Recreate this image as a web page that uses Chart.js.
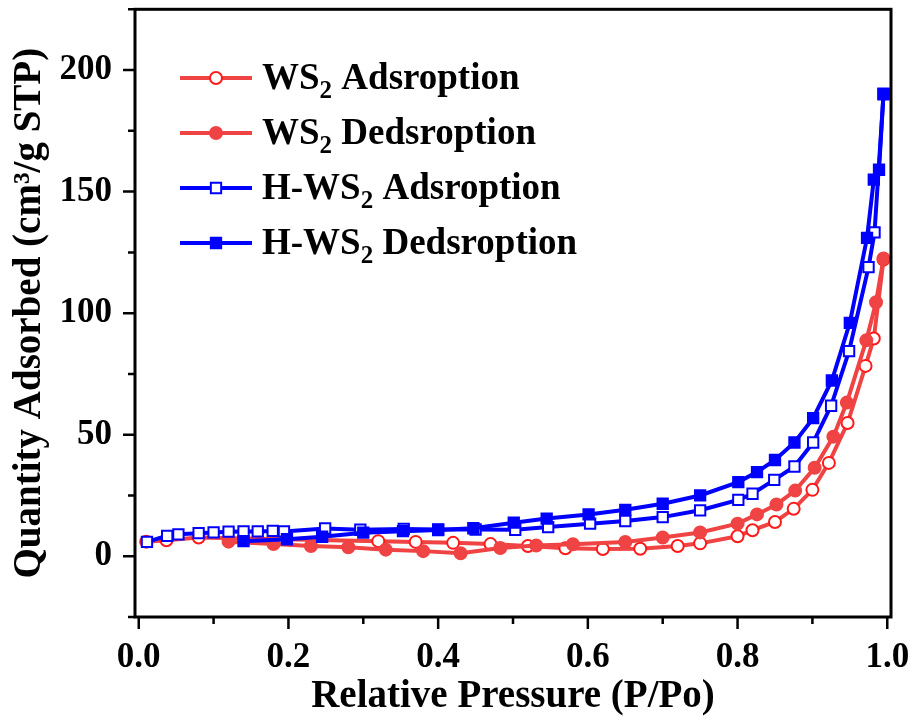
<!DOCTYPE html>
<html>
<head>
<meta charset="utf-8">
<title>N2 isotherms WS2 / H-WS2</title>
<script src="https://cdn.jsdelivr.net/npm/chart.js@4.4.1/dist/chart.umd.min.js"></script>
<style>
  html, body { margin: 0; padding: 0; background: #fff; }
  canvas { display: block; }
</style>
</head>
<body>
<canvas id="isotherm" width="916" height="724"></canvas>
<script>
// values (P/Po, cm3/g STP)
const wsAdsX = [0.010, 0.037, 0.080, 0.320, 0.370, 0.420, 0.470, 0.520, 0.570, 0.620, 0.670, 0.720, 0.750, 0.800, 0.820, 0.850, 0.875, 0.900, 0.922, 0.947, 0.971, 0.982, 0.995];
const wsAdsY = [6.0, 6.6, 7.7, 6.2, 5.9, 5.5, 5.0, 4.2, 3.3, 3.0, 3.1, 4.2, 5.3, 8.2, 10.7, 14.1, 19.5, 27.3, 38.4, 54.8, 78.3, 89.6, 122.0];

const wsDesX = [0.120, 0.180, 0.230, 0.280, 0.330, 0.380, 0.430, 0.483, 0.531, 0.580, 0.650, 0.700, 0.750, 0.800, 0.826, 0.852, 0.877, 0.903, 0.928, 0.946, 0.972, 0.985, 0.995];
const wsDesY = [6.0, 5.0, 4.2, 3.7, 2.7, 2.1, 1.2, 3.4, 4.4, 4.9, 5.9, 7.7, 9.8, 13.4, 17.2, 21.3, 27.0, 36.4, 49.2, 63.2, 88.8, 104.5, 122.5];

const hwsAdsX = [0.011, 0.038, 0.053, 0.080, 0.100, 0.120, 0.140, 0.159, 0.179, 0.194, 0.249, 0.296, 0.354, 0.400, 0.450, 0.503, 0.547, 0.603, 0.650, 0.700, 0.750, 0.801, 0.820, 0.849, 0.876, 0.901, 0.925, 0.949, 0.975, 0.983, 0.995];
const hwsAdsY = [5.9, 8.4, 9.0, 9.5, 9.8, 10.1, 10.2, 10.2, 10.4, 10.2, 11.4, 10.9, 11.2, 11.0, 11.0, 10.9, 12.0, 13.4, 14.5, 16.1, 18.9, 23.2, 25.7, 31.4, 36.9, 46.8, 61.9, 84.4, 118.9, 133.2, 190.0];

const hwsDesX = [0.140, 0.198, 0.245, 0.300, 0.353, 0.400, 0.447, 0.501, 0.545, 0.601, 0.650, 0.700, 0.750, 0.801, 0.826, 0.850, 0.876, 0.901, 0.926, 0.950, 0.973, 0.982, 0.989, 0.995];
const hwsDesY = [6.2, 7.0, 8.0, 9.7, 10.3, 10.8, 11.5, 13.8, 15.5, 17.2, 19.1, 21.6, 25.0, 30.5, 34.6, 39.6, 46.8, 56.8, 72.3, 96.0, 131.0, 154.9, 159.0, 190.3];

const seriesNames = ["WS₂ Adsroption", "WS₂ Dedsroption", "H-WS₂ Adsroption", "H-WS₂ Dedsroption"];

const xTicks = [0, 0.2, 0.4, 0.6, 0.8, 1.0];
const xMinor = [0.1, 0.3, 0.5, 0.7, 0.9];
const yTicks = [0, 50, 100, 150, 200];
const yMinor = [-25, 25, 75, 125, 175, 225];

const serif = '"Liberation Serif", "Times New Roman", serif';
const RED = '#f04343';
const BLUE = '#0000ff';

function pts(xs, ys) {
    return xs.map((x, i) => ({ x: x, y: ys[i] }));
}

// draws one marker the same way for plot and legend
function marker(ctx, ds, x, y) {
    ctx.save();
    ctx.fillStyle = ds.pointBackgroundColor;
    ctx.strokeStyle = ds.pointBorderColor;
    ctx.lineWidth = ds.pointBorderWidth;
    ctx.beginPath();
    if (ds.pointStyle === 'rect') {
        const h = Math.SQRT1_2 * ds.pointRadius;
        ctx.rect(x - h, y - h, 2 * h, 2 * h);
    } else {
        ctx.arc(x, y, ds.pointRadius, 0, Math.PI * 2);
    }
    ctx.fill();
    ctx.stroke();
    ctx.restore();
}

// frame with outward major / minor ticks
const framePlugin = {
    id: 'frame',
    afterDraw(chart) {
        const { ctx, chartArea: a, scales: { x, y } } = chart;
        ctx.save();
        ctx.strokeStyle = '#000';
        ctx.lineWidth = 2.5;
        ctx.beginPath();
        xTicks.forEach(v => { const p = x.getPixelForValue(v); ctx.moveTo(p, a.bottom); ctx.lineTo(p, a.bottom + 12); });
        xMinor.forEach(v => { const p = x.getPixelForValue(v); ctx.moveTo(p, a.bottom); ctx.lineTo(p, a.bottom + 7); });
        yTicks.forEach(v => { const p = y.getPixelForValue(v); ctx.moveTo(a.left, p); ctx.lineTo(a.left - 12, p); });
        yMinor.forEach(v => { const p = y.getPixelForValue(v); ctx.moveTo(a.left, p); ctx.lineTo(a.left - 7, p); });
        ctx.stroke();
        ctx.lineWidth = 3;
        ctx.strokeRect(a.left, a.top, a.right - a.left, a.bottom - a.top);
        ctx.restore();
    }
};

// legend with real subscripts
const legendPlugin = {
    id: 'subLegend',
    afterDraw(chart) {
        const ctx = chart.ctx;
        chart.data.datasets.forEach((ds, i) => {
            const cy = 78 + i * 55;
            ctx.save();
            ctx.strokeStyle = ds.borderColor;
            ctx.lineWidth = ds.borderWidth;
            ctx.beginPath();
            ctx.moveTo(180, cy);
            ctx.lineTo(252, cy);
            ctx.stroke();
            ctx.restore();
            marker(ctx, ds, 216, cy);

            ctx.save();
            ctx.fillStyle = '#000';
            ctx.textBaseline = 'alphabetic';
            ctx.textAlign = 'left';
            let tx = 262;
            const parts = ds.label.split('₂');
            parts.forEach((part, k) => {
                ctx.font = 'bold 37px ' + serif;
                ctx.fillText(part, tx, cy + 11);
                tx += ctx.measureText(part).width;
                if (k < parts.length - 1) {
                    ctx.font = 'bold 25px ' + serif;
                    ctx.fillText('2', tx, cy + 20);
                    tx += ctx.measureText('2').width;
                }
            });
            ctx.restore();
        });
    }
};

const common = {
    showLine: true,
    borderWidth: 4,
    pointBorderWidth: 2,
    pointHoverRadius: 6
};

new Chart("isotherm", {
    type: "line",
    data: {
        datasets: [{
            ...common,
            label: seriesNames[0],
            data: pts(wsAdsX, wsAdsY),
            borderColor: RED,
            pointStyle: 'circle',
            pointRadius: 6,
            pointBackgroundColor: '#ffffff',
            pointBorderColor: '#ff1a1a',
            order: 4
        }, {
            ...common,
            label: seriesNames[1],
            data: pts(wsDesX, wsDesY),
            borderColor: RED,
            pointStyle: 'circle',
            pointRadius: 6,
            pointBackgroundColor: RED,
            pointBorderColor: RED,
            order: 3
        }, {
            ...common,
            label: seriesNames[2],
            data: pts(hwsAdsX, hwsAdsY),
            borderColor: BLUE,
            pointStyle: 'rect',
            pointRadius: 7.3,
            pointBackgroundColor: '#ffffff',
            pointBorderColor: BLUE,
            order: 2
        }, {
            ...common,
            label: seriesNames[3],
            data: pts(hwsDesX, hwsDesY),
            borderColor: BLUE,
            pointStyle: 'rect',
            pointRadius: 7.3,
            pointBackgroundColor: BLUE,
            pointBorderColor: BLUE,
            order: 1
        }]
    },
    options: {
        responsive: false,
        animation: false,
        devicePixelRatio: 1,
        layout: { padding: { top: 7, right: 25, left: 0, bottom: 0 } },
        plugins: {
            legend: { display: false },
            tooltip: { enabled: false }
        },
        scales: {
            x: {
                type: 'linear',
                min: -0.005,
                max: 1.005,
                grid: { display: false, drawTicks: false },
                border: { display: false },
                afterBuildTicks: s => { s.ticks = xTicks.map(v => ({ value: v })); },
                afterFit: s => { s.height = 107; s.paddingLeft = 0; s.paddingRight = 0; },
                ticks: {
                    color: '#000',
                    padding: 20,
                    maxRotation: 0,
                    font: { family: serif, size: 35, weight: 'bold' },
                    callback: v => v.toFixed(1)
                },
                title: {
                    display: true,
                    text: 'Relative Pressure (P/Po)',
                    color: '#000',
                    padding: { top: 0, bottom: 4 },
                    font: { family: serif, size: 39, weight: 'bold' }
                }
            },
            y: {
                min: -25,
                max: 225,
                grid: { display: false, drawTicks: false },
                border: { display: false },
                afterBuildTicks: s => { s.ticks = yTicks.map(v => ({ value: v })); },
                afterFit: s => { s.width = 135; s.paddingTop = 0; s.paddingBottom = 0; },
                ticks: {
                    color: '#000',
                    padding: 23,
                    font: { family: serif, size: 35, weight: 'bold' }
                },
                title: {
                    display: true,
                    text: 'Quantity Adsorbed (cm³/g STP)',
                    color: '#000',
                    padding: { top: 7, bottom: 0 },
                    font: { family: serif, size: 39, weight: 'bold' }
                }
            }
        }
    },
    plugins: [framePlugin, legendPlugin]
});
</script>
</body>
</html>
